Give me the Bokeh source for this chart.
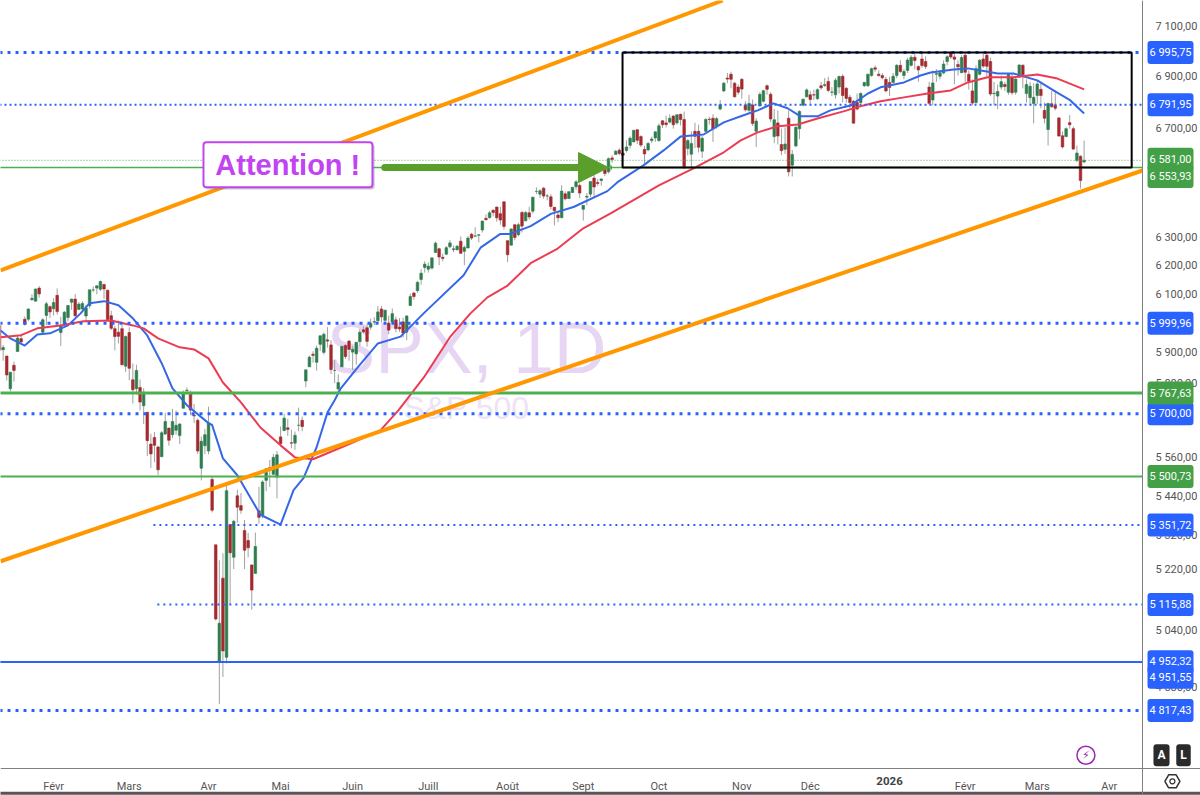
from bokeh.plotting import figure
from bokeh.embed import file_html
from bokeh.resources import INLINE
from bokeh.core.properties import value
from bokeh.models import Range1d, FixedTicker, Label, BoxAnnotation, Arrow, NormalHead, ColumnDataSource

# ---- daily bars, Jan 2025 -> Mar 2026
opens = [
 5993,5911,5890,5782,5859,5905,5948,6014,6014,6081,6076,6121,5970,6027,6057,6050,6096,
 5969,5998,6020,6072,6083,6047,6049,6025,6060,6115,6121,6117,6134,6114,6026,5982,5970,5982,5856,
 5969,5811,5782,5786,5726,5705,5603,5624,5594,5563,5635,5654,5633,5647,5630,5718,5775,5767,5695,5679,5527,
 5598,5581,5492,5292,4953,5193,4965,5353,5255,5441,5411,5335,5305,5232,5207,5395,5381,5489,5529,5508,5499,
 5626,5646,5655,5607,5606,5663,5679,5807,5854,5896,5869,5929,5902,5944,5927,5842,5781,5854,5925,5940,5903,
 5897,5938,5978,5985,5987,6004,6009,6049,6010,6001,6004,6012,5987,6005,5970,6061,6104,6112,6151,6193,
 6187,6191,6246,6259,6229,6240,6266,6256,6256,6286,6250,6262,6311,6304,6307,6326,6368,6370,6397,6409,6385,6428,
 6288,6272,6345,6309,6389,6359,6388,6394,6466,6456,6478,6449,6446,6408,6380,6370,6457,6440,6462,6483,6488,
 6401,6445,6456,6515,6499,6506,6547,6538,6590,6603,6619,6608,6618,6637,6650,6696,6670,6622,6620,6655,6665,
 6655,6730,6722,6725,6748,6722,6755,6735,6625,6604,6690,6690,6615,6690,6736,6740,6708,6775,6845,6895,6910,6875,6860,
 6890,6790,6770,6791,6690,6787,6805,6865,6832,6670,6722,6640,6622,6740,6563,6635,6700,6790,6822,
 6830,6830,6815,6865,6866,6882,6840,6830,6860,6902,6855,6820,6805,6800,6800,6865,6865,6905,6935,6910,6905,6890,
 6878,6878,6905,6945,6905,6925,6945,6977,6940,6970,6960,6860,6810,6910,6902,6915,6960,6995,6978,6948,
 6916,6985,6910,6845,6800,6910,6970,6985,6960,6834,6825,6860,6870,6840,6895,6840,6900,6945,6835,
 6819,6796,6827,6851,6770,6697,6795,6789,6741,6673,6670,6723,6700,6580,6596,6575,
]
highs = [
 6000,5927,5890,5837,5871,5960,5965,6023,6051,6100,6119,6128,6018,6074,6062,6086,6120,
 6022,6042,6062,6084,6101,6073,6076,6063,6116,6127,6129,6147,6134,6115,6043,5992,6010,5994,5959,
 5987,5865,5861,5812,5783,5705,5636,5642,5598,5645,5703,5655,5716,5711,5670,5776,5786,5776,5732,5685,5627,
 5651,5723,5500,5292,5246,5267,5481,5353,5368,5460,5450,5367,5328,5233,5329,5469,5489,5528,5553,5572,5581,
 5659,5700,5684,5649,5643,5720,5691,5845,5892,5906,5925,5958,5969,5987,5943,5878,5829,5925,5930,5943,5923,
 5937,5981,5990,5999,6016,6021,6059,6059,6045,6026,6051,6023,6018,6019,6028,6102,6108,6146,6187,6215,
 6211,6227,6285,6263,6242,6269,6290,6271,6273,6303,6271,6304,6316,6336,6310,6360,6382,6395,6401,6410,6410,6428,
 6288,6331,6346,6352,6395,6395,6410,6446,6481,6474,6482,6457,6456,6408,6393,6489,6466,6466,6482,6508,6495,
 6416,6460,6502,6532,6511,6513,6555,6592,6600,6620,6626,6626,6656,6671,6695,6698,6675,6635,6650,6670,6690,
 6720,6733,6750,6755,6752,6755,6757,6765,6660,6690,6723,6715,6672,6740,6745,6755,6745,6810,6880,6915,6920,6880,6870,
 6895,6805,6830,6812,6740,6840,6850,6870,6840,6775,6770,6700,6705,6770,6620,6710,6770,6815,6855,
 6845,6850,6855,6880,6895,6900,6860,6895,6905,6910,6860,6830,6810,6835,6840,6880,6912,6936,6945,6925,6915,6900,
 6900,6915,6950,6965,6930,6975,6985,6990,6945,7000,6980,6880,6925,6930,6925,6965,6985,7002,6990,6965,
 6985,6998,6925,6890,6945,6970,6990,6995,6975,6880,6870,6905,6880,6915,6915,6900,6950,6950,6890,
 6880,6875,6885,6880,6800,6800,6845,6847,6745,6690,6705,6752,6708,6636,6600,6655,
]
lows = [
 5877,5874,5809,5773,5805,5905,5929,5992,6007,6077,6075,6088,5962,5994,6018,6027,6030,
 5923,5990,6007,6046,6020,6047,6042,6003,6051,6107,6100,6111,6084,6008,5977,5909,5932,5858,5837,
 5810,5733,5762,5711,5667,5565,5528,5546,5505,5563,5632,5598,5622,5633,5603,5718,5764,5695,5670,5572,5489,
 5571,5571,5390,5070,4835,4910,4948,5115,5220,5359,5386,5220,5255,5101,5207,5356,5372,5455,5468,5505,5433,
 5600,5646,5629,5590,5585,5644,5644,5786,5853,5868,5841,5907,5895,5918,5830,5800,5768,5854,5880,5874,5843,
 5861,5923,5966,5921,5978,5994,6002,6003,6003,5963,6004,5970,5971,5952,5943,6059,6081,6105,6133,6175,
 6175,6186,6246,6201,6215,6236,6261,6247,6252,6241,6201,6261,6290,6303,6282,6317,6360,6368,6375,6356,6345,6327,
 6212,6271,6289,6304,6317,6358,6364,6385,6456,6442,6439,6433,6400,6343,6354,6370,6433,6438,6460,6472,6442,
 6360,6415,6445,6444,6486,6487,6522,6532,6572,6602,6600,6551,6610,6625,6650,6642,6630,6570,6615,6645,6650,
 6650,6703,6705,6720,6700,6715,6712,6550,6600,6550,6627,6610,6590,6685,6715,6650,6700,6770,6840,6875,6855,6820,6830,
 6815,6765,6760,6710,6631,6785,6800,6830,6725,6645,6640,6600,6605,6521,6521,6630,6660,6785,6820,
 6795,6810,6810,6850,6860,6840,6825,6815,6835,6800,6800,6775,6720,6770,6795,6860,6860,6900,6920,6900,6890,6840,
 6825,6875,6895,6915,6890,6915,6940,6930,6880,6935,6930,6790,6790,6880,6890,6910,6945,6970,6871,6905,
 6915,6880,6850,6790,6795,6905,6935,6900,6825,6790,6775,6850,6845,6830,6830,6830,6895,6855,6800,
 6790,6720,6795,6778,6720,6636,6780,6770,6670,6625,6668,6700,6620,6574,6477,6570,
]
closes = [
 5909,5918,5827,5836,5842,5950,5937,5997,6049,6086,6118,6101,6012,6067,6039,6071,6040,
 5994,6038,6061,6083,6026,6066,6068,6052,6115,6115,6129,6144,6118,6013,5983,5955,5956,5861,5955,
 5849,5778,5842,5738,5770,5614,5572,5599,5522,5639,5675,5615,5675,5663,5667,5768,5777,5712,5693,5581,5612,
 5633,5671,5397,5074,5062,4983,5457,5268,5363,5406,5397,5276,5283,5158,5287,5375,5484,5525,5528,5561,5569,
 5604,5686,5650,5606,5631,5663,5659,5844,5886,5892,5916,5958,5963,5940,5845,5842,5802,5922,5888,5912,5912,
 5936,5970,5971,5939,6000,6006,6039,6022,6045,5977,6033,5982,5981,5967,6025,6092,6092,6141,6173,6205,
 6198,6227,6279,6230,6225,6263,6280,6259,6268,6243,6264,6297,6297,6305,6309,6358,6363,6388,6389,6370,6362,6339,
 6238,6330,6299,6345,6340,6389,6373,6445,6466,6468,6449,6449,6411,6395,6370,6467,6439,6465,6481,6501,6460,
 6415,6448,6502,6482,6495,6512,6532,6587,6584,6615,6606,6600,6631,6664,6694,6656,6638,6605,6644,6661,6688,
 6711,6715,6716,6740,6715,6753,6735,6553,6655,6644,6671,6630,6664,6735,6735,6699,6738,6792,6875,6891,6890,6822,6840,
 6852,6772,6796,6720,6729,6832,6846,6851,6737,6734,6672,6617,6642,6538,6603,6705,6766,6813,6849,
 6812,6829,6850,6857,6870,6847,6841,6887,6901,6827,6816,6800,6721,6775,6835,6878,6910,6932,6930,6905,6896,6845,
 6858,6902,6945,6921,6921,6966,6977,6964,6927,6944,6940,6797,6876,6913,6916,6950,6979,6978,6969,6939,
 6976,6918,6883,6798,6932,6965,6942,6941,6833,6836,6843,6881,6862,6910,6838,6891,6946,6908,6870,
 6863,6820,6872,6827,6740,6796,6784,6778,6672,6631,6700,6715,6623,6608,6506,6581,
]

# moving averages at a set of bars
blue_bars = [0.3,3,7,10.5,14,19,22.5,25,29,33,37,41,45,48,52,58,59,62,66,72.4,78,81.6,84.4,88,91,93,94.6,99.4,105,111.3,117.7,128.8,133.5,139,141.8,147.4,153,159.3,168.7,171.5,178.7,184.3,189,195.4,201,206.5,210.4,214.8,218.7,222.3,227,230.6,236.2,241,244.5,251,255.6,258.4,264.8,268.7,274,277,281.4,288,292.5,297.2,301]
blue_vals = [5976,5949,5925,5962,5966,5993,6034,6069,6076,6062,6017,5959,5866,5783,5728,5670,5664,5558,5505,5383,5353,5459,5497,5593,5704,5744,5781,5852,5932,5955,6034,6166,6263,6312,6312,6340,6384,6409,6467,6500,6562,6618,6670,6678,6724,6751,6770,6797,6778,6747,6747,6770,6789,6835,6859,6878,6905,6917,6929,6933,6921,6913,6913,6886,6847,6808,6758]
red_bars = [0.3,6,10.5,17,23.3,31,37,40,44,50,54,58,62,67,72.4,78,82,87,97.4,105.7,110.7,117.7,125,130.7,135.4,141,147.4,154.9,162,169.6,183,192.6,201,205.7,210.4,216,221.5,227,234.2,239.8,244.5,251,257.6,264,268.7,274.2,281.4,288,293.6,301]
red_vals = [5953,5960,5983,5993,6007,6010,5993,5983,5949,5919,5912,5882,5802,5737,5656,5599,5561,5555,5605,5647,5711,5818,5953,6034,6089,6130,6208,6260,6332,6386,6488,6551,6611,6656,6686,6709,6716,6739,6766,6789,6805,6820,6835,6847,6878,6898,6898,6909,6893,6851]

# drawn objects
upper_bars, upper_vals = [0.3, 200.7], [6183, 7205]
lower_bars, lower_vals = [0.3, 317.2], [5243, 6543]
box_bars = [172.9, 314.2]
box_vals = [6553.93, 6995.75]
wide_dots = [6995.75, 5999.96, 5700.00, 4817.43]
thin_dots = [6791.95]
short_dots = [(5351.72, 42.7), (5115.88, 43.8)]
green_levels = [(5767.63, 3), (5500.73, 2), (6553.93, 1.5)]
blue_level = [4952.32, 4951.55]
last_price = 6581.00
arrow_bars = [106.9, 169]
call_bars = [56.6, 103.5]
call_vals = [6481, 6649]

y_ticks = {7100:"7 100,00",6900:"6 900,00",6700:"6 700,00",6300:"6 300,00",6200:"6 200,00",6100:"6 100,00",
           5900:"5 900,00",5800:"5 800,00",5560:"5 560,00",5440:"5 440,00",5320:"5 320,00",5220:"5 220,00",
           5040:"5 040,00",4880:"4 880,00"}
x_ticks = {15:"Févr",36:"Mars",58:"Avr",78:"Mai",98:"Juin",119:"Juill",141:"Août",162:"Sept",183:"Oct",206:"Nov",225:"Déc",268:"Févr",288:"Mars",308:"Avr"}
year_bar = 247
badges_blue = [(6995.75,"6 995,75",0),(6791.95,"6 791,95",0),(5999.96,"5 999,96",0),(5700.00,"5 700,00",0),
               (5351.72,"5 351,72",0),(5115.88,"5 115,88",0),(4952.32,"4 952,32",0),(4951.55,"4 951,55",-15),(4817.43,"4 817,43",0)]
badges_green = [(6581.00,"6 581,00",1),(6553.93,"6 553,93",-9),(5767.63,"5 767,63",0),(5500.73,"5 500,73",0)]

FONT = "Roboto"
BLUE, GREEN, ORANGE, PURPLE = "#2962ff", "#4caf50", "#ff9800", "#c243f2"
LAST_BAR_EDGE, AXIS_FLOOR = 317.2, 4662

p = figure(width=1200, height=795, y_axis_type="log", y_axis_location="right",
           x_range=Range1d(0.27, 333.3), y_range=Range1d(4591, 7205),
           output_backend="svg", toolbar_location=None,
           min_border_left=0, min_border_top=0, min_border_right=0, min_border_bottom=0)
p.outline_line_color = None
p.grid.visible = False

ax = p.yaxis[0]
ax.fixed_location = LAST_BAR_EDGE
ax.ticker = FixedTicker(ticks=list(y_ticks))
ax.major_label_overrides = y_ticks
ax.major_tick_line_color = None
ax.minor_tick_line_color = None
ax.major_label_standoff = 7
ax.major_label_text_font = FONT
ax.major_label_text_font_size = "11px"
ax.major_label_text_color = "#555555"
ax.axis_line_color = "#808080"

bx = p.xaxis[0]
bx.fixed_location = AXIS_FLOOR
bx.ticker = FixedTicker(ticks=list(x_ticks))
bx.major_label_overrides = x_ticks
bx.major_tick_line_color = None
bx.minor_tick_line_color = None
bx.major_label_standoff = 6
bx.major_label_text_font = FONT
bx.major_label_text_font_size = "11px"
bx.major_label_text_color = "#555555"
bx.axis_line_color = "#808080"

# watermark
p.text([129.6], [5919], text=["SPX, 1D"], text_font=value("Liberation Sans"), text_font_size="73px",
       text_color="#e7d6f3", text_align="center", text_baseline="middle")
p.text([129.6], [5720], text=["S&P 500"], text_font=value("Liberation Sans"), text_font_size="32px",
       text_color="#eee2f6", text_align="center", text_baseline="middle")

# candles
idx = list(range(len(closes)))
cols = ["#2f7d4f" if c >= o else "#a32a2e" for o, c in zip(opens, closes)]
src = ColumnDataSource(dict(x=idx, o=opens, h=highs, l=lows, c=closes, col=cols))
p.segment("x", "h", "x", "l", source=src, line_color="#a0a0a0", line_width=1)
p.vbar("x", 0.72, "o", "c", source=src, fill_color="col", line_color="col", line_width=0.6)

# moving averages
p.line(blue_bars, blue_vals, line_color="#3568e6", line_width=2, line_join="round")
p.line(red_bars, red_vals, line_color="#ec3b52", line_width=2, line_join="round")

# horizontal levels
R = LAST_BAR_EDGE
for v in wide_dots:
    p.line([0, R], [v, v], line_color=BLUE, line_width=3, line_dash="3 5")
for v in thin_dots:
    p.line([0, R], [v, v], line_color=BLUE, line_width=2, line_dash="2 3")
for v, start in short_dots:
    p.line([start, R], [v, v], line_color=BLUE, line_width=2, line_dash="2 4")
for v, w in green_levels:
    p.line([0, R], [v, v], line_color=GREEN, line_width=w)
for v in blue_level:
    p.line([0, R], [v, v], line_color=BLUE, line_width=1.5)
p.line([0, R], [last_price, last_price], line_color=GREEN, line_width=1, line_dash="1 2")

# channel lines
p.line(upper_bars, upper_vals, line_color=ORANGE, line_width=4)
p.line(lower_bars, lower_vals, line_color=ORANGE, line_width=4)

# window bottom edge
p.line([0, 333.3], [4597, 4597], line_color="#555555", line_width=3)

# range box
p.add_layout(BoxAnnotation(left=box_bars[0], right=box_bars[1], bottom=box_vals[0], top=box_vals[1],
                           fill_alpha=0, line_color="#000000", line_alpha=1, line_width=2))

# arrow
p.add_layout(Arrow(end=NormalHead(size=30, fill_color="#5a9e2c", line_color="#5a9e2c"),
                   x_start=arrow_bars[0], y_start=6553.93, x_end=arrow_bars[1], y_end=6553.93,
                   line_color="#5a9e2c", line_width=7, line_cap="round"))

# call-out
p.add_layout(BoxAnnotation(left=call_bars[0]+0.6, right=call_bars[1]+0.6, bottom=call_vals[0]-8, top=call_vals[1]-8,
                           fill_color="#888888", fill_alpha=0.45, line_color=None, border_radius=3))
p.add_layout(BoxAnnotation(left=call_bars[0], right=call_bars[1], bottom=call_vals[0], top=call_vals[1],
                           fill_color="#ffffff", fill_alpha=1, line_color=PURPLE, line_alpha=1, line_width=2, border_radius=3))
p.add_layout(Label(x=80, y=6562, text="Attention !", text_font="Liberation Sans", text_font_style="bold",
                   text_font_size="29px", text_color=PURPLE, text_align="center", text_baseline="middle"))

# year tick
p.add_layout(Label(x=year_bar, y=4628, text="2026", text_font=FONT, text_font_style="bold", text_font_size="11.5px",
                   text_color="#444444", text_align="center", text_baseline="middle"))

# price badges
for items, col in ((badges_blue, BLUE), (badges_green, "#43a047")):
    for v, txt, off in items:
        p.add_layout(Label(x=1170, x_units="screen", y=v, y_offset=off, text=txt, text_font=FONT,
                           text_font_size="11px", text_color="#ffffff", text_align="center", text_baseline="middle",
                           background_fill_color=col, padding=(2, 5), border_radius=3))

# buttons and icons
for xs, t in ((1161, "A"), (1183, "L")):
    p.add_layout(Label(x=xs, x_units="screen", y=4697, text=t, text_font=FONT, text_font_style="bold",
                       text_font_size="12px", text_color="#ffffff", text_align="center", text_baseline="middle",
                       background_fill_color="#2a2a2a", padding=4, border_radius=3))
p.scatter([325.5], [4628], size=15, marker="hex", fill_color="#ffffff", line_color="#333333", line_width=1.5)
p.scatter([325.5], [4628], size=5, marker="circle", fill_color="#ffffff", line_color="#333333", line_width=1.2)
p.scatter([301.5], [4697], size=18, marker="circle", fill_color="#ffffff", line_color="#9c27b0", line_width=1.5)
p.add_layout(Label(x=301.5, y=4697, text="⚡", text_font="DejaVu Sans", text_font_size="11px",
                   text_color="#9c27b0", text_align="center", text_baseline="middle"))

open("out.html", "w").write(file_html(p, INLINE))
